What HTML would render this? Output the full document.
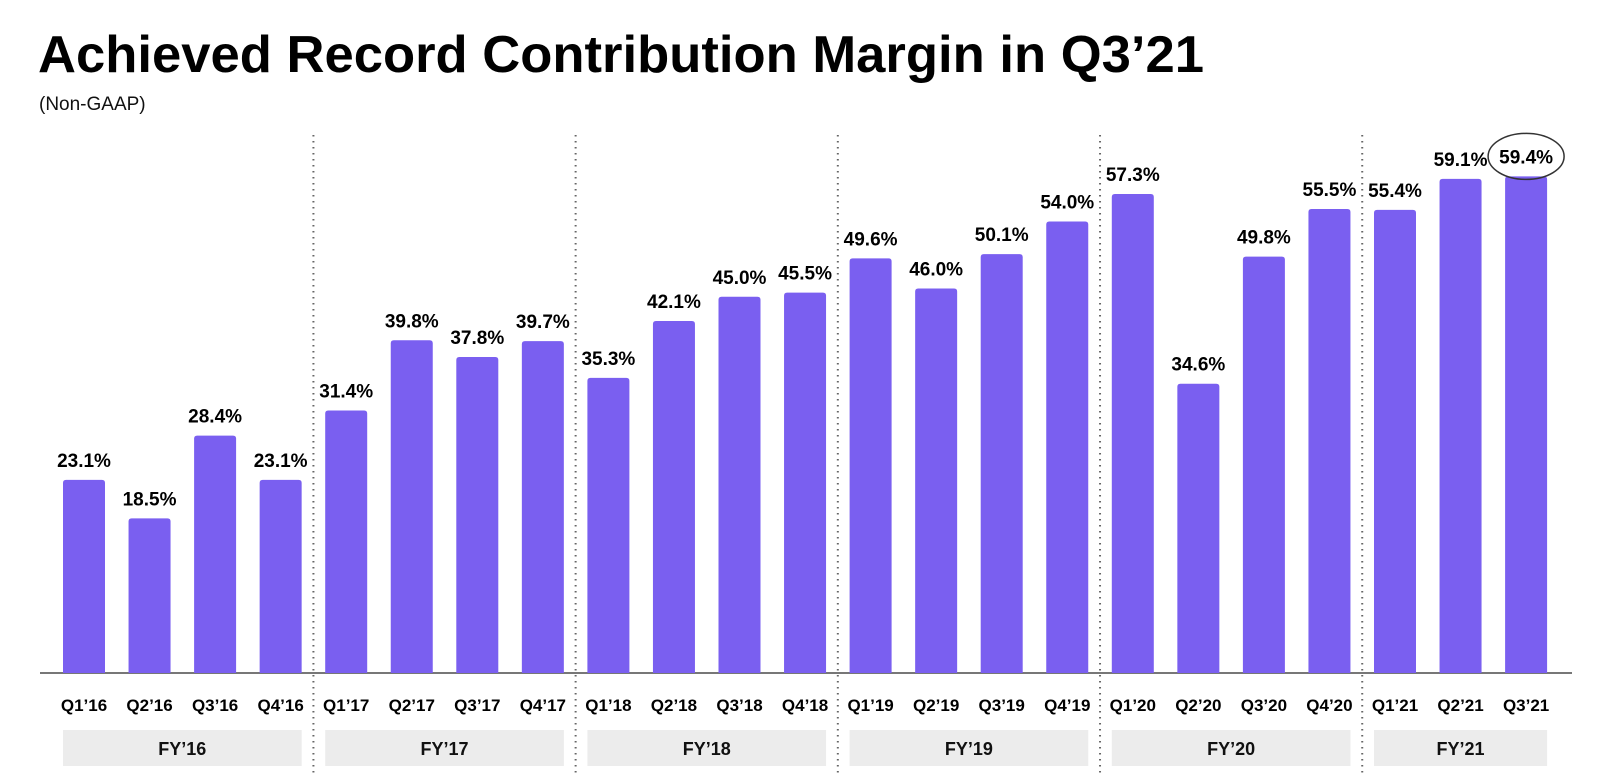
<!DOCTYPE html>
<html><head><meta charset="utf-8"><style>
html,body{margin:0;padding:0;background:#fff;}
svg{display:block;font-family:"Liberation Sans",sans-serif;}
</style></head><body>
<svg id="chart" width="1600" height="776">
<text x="38" y="72" font-size="52" font-weight="bold" fill="#000" textLength="1166" lengthAdjust="spacingAndGlyphs">Achieved Record Contribution Margin in Q3’21</text>
<text x="39" y="110" font-size="19" fill="#111">(Non-GAAP)</text>
<g id="bars"></g>
</svg>
<script>
const quarters=["Q1’16","Q2’16","Q3’16","Q4’16","Q1’17","Q2’17","Q3’17","Q4’17","Q1’18","Q2’18","Q3’18","Q4’18","Q1’19","Q2’19","Q3’19","Q4’19","Q1’20","Q2’20","Q3’20","Q4’20","Q1’21","Q2’21","Q3’21"];
const values=[23.1,18.5,28.4,23.1,31.4,39.8,37.8,39.7,35.3,42.1,45.0,45.5,49.6,46.0,50.1,54.0,57.3,34.6,49.8,55.5,55.4,59.1,59.4];
const years=["FY’16","FY’17","FY’18","FY’19","FY’20","FY’21"];
const yearCounts=[4,4,4,4,4,3];

const NS="http://www.w3.org/2000/svg";
const svg=document.getElementById('chart');
const g=document.getElementById('bars');
const base=673, pxPer=8.36, x0=63, pitch=65.55, bw=42;
const xPos=i=>x0+i*pitch;
const yPos=v=>base-v*pxPer;
function mk(t,a,parent){const e=document.createElementNS(NS,t);for(const k in a)e.setAttribute(k,a[k]);(parent||g).appendChild(e);return e;}

let idx=0;
years.forEach((y,j)=>{
  const first=idx,last=idx+yearCounts[j]-1;
  const box=mk('rect',{x:xPos(first),y:730,width:xPos(last)+bw-xPos(first),height:36,fill:'#ececec'});
  
  
  const t=mk('text',{x:(xPos(first)+xPos(last)+bw)/2,y:755,'text-anchor':'middle','font-size':18,'font-weight':'bold',fill:'#111'});
  t.textContent=y;
  
  
  if(j>0){
    const sx=xPos(first)-(pitch-bw)/2;
    const l=mk('line',{x1:sx,y1:135,x2:sx,y2:776,stroke:'#666','stroke-width':2,'stroke-dasharray':'1.5 4.5'});
    
    
  }
  idx=last+1;
});

const ax=mk('line',{x1:40,y1:base,x2:1572,y2:base,stroke:'#777','stroke-width':2});



values.forEach((v,i)=>{
  const x=xPos(i),y=yPos(v);
  const r=mk('path',{d:`M${x} ${base}V${y+3}Q${x} ${y} ${x+3} ${y}H${x+bw-3}Q${x+bw} ${y} ${x+bw} ${y+3}V${base}Z`,fill:'#7a5ff0'});
  
  
  const t=mk('text',{x:x+bw/2,y:y-13,'text-anchor':'middle','font-size':19,'font-weight':'bold',fill:'#000'});
  t.textContent=v.toFixed(1)+'%';
  
  
  const q=mk('text',{x:x+bw/2,y:711,'text-anchor':'middle','font-size':17,'font-weight':'bold',fill:'#000'});
  q.textContent=quarters[i];
  
  
  if(i===values.length-1){
    const e=mk('ellipse',{cx:x+bw/2,cy:y-20,rx:38,ry:23,fill:'none',stroke:'#333','stroke-width':1.5});
    
    
  }
});
</script>
</body></html>
